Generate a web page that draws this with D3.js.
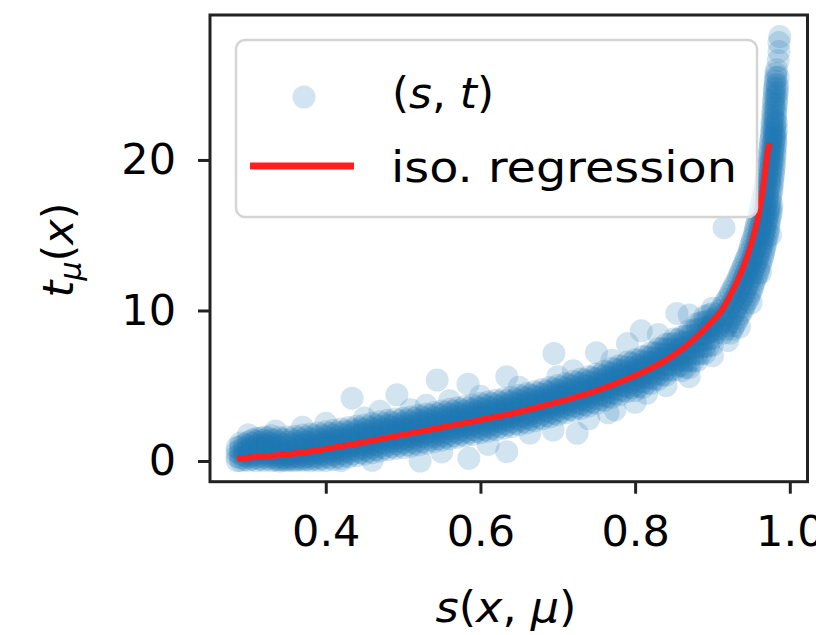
<!DOCTYPE html>
<html>
<head>
<meta charset="utf-8">
<script src="https://d3js.org/d3.v7.min.js"></script>
<style>
  body { margin: 0; background: #fff; }
  text { font-family: "DejaVu Sans", sans-serif; fill: #000; }
</style>
</head>
<body>
<div id="chart"></div>
<script>
// scatter band, read column by column: s value and the t values seen in that column
var bandS = [0.2854, 0.29, 0.30, 0.31, 0.32, 0.33, 0.34, 0.35, 0.36, 0.37, 0.38, 0.39, 0.40,
  0.41, 0.42, 0.43, 0.44, 0.45, 0.46, 0.47, 0.48, 0.49, 0.50, 0.51, 0.52, 0.53, 0.54, 0.55,
  0.56, 0.57, 0.58, 0.59, 0.60, 0.61, 0.62, 0.63, 0.64, 0.65, 0.66, 0.67, 0.68, 0.69, 0.70,
  0.71, 0.72, 0.73, 0.74, 0.75, 0.76, 0.77, 0.78, 0.79, 0.80, 0.81, 0.82, 0.83, 0.84, 0.85,
  0.86, 0.87, 0.88, 0.89, 0.90];
var bandT = [
  [0.03, 0.3, 0.6, 0.9],
  [0.02, 0.2, 0.45, 0.7, 0.97, 1.2],
  [0.03, 0.25, 0.5, 0.75, 1.02, 1.27],
  [0.01, 0.22, 0.48, 0.76, 1.06, 1.31, 1.5],
  [0.04, 0.26, 0.54, 0.82, 1.12, 1.38, 1.6],
  [0.02, 0.28, 0.56, 0.86, 1.16, 1.42, 1.68],
  [0.0, 0.1, 0.3, 0.56, 0.9, 1.23, 1.55],
  [0.03, 0.12, 0.32, 0.61, 0.95, 1.28, 1.6],
  [0.01, 0.15, 0.36, 0.66, 1.0, 1.33, 1.65],
  [0.05, 0.18, 0.42, 0.73, 1.07, 1.4, 1.72],
  [0.02, 0.2, 0.48, 0.8, 1.14, 1.47, 1.79],
  [0.04, 0.25, 0.55, 0.87, 1.21, 1.54, 1.86],
  [0.03, 0.31, 0.63, 0.95, 1.29, 1.62, 1.94],
  [0.09, 0.41, 0.73, 1.05, 1.39, 1.72, 2.04],
  [0.18, 0.5, 0.82, 1.14, 1.48, 1.81, 2.13],
  [0.27, 0.59, 0.91, 1.23, 1.57, 1.9, 2.22],
  [0.36, 0.68, 1.0, 1.32, 1.66, 1.99, 2.31],
  [0.45, 0.77, 1.09, 1.41, 1.75, 2.08, 2.4],
  [0.55, 0.87, 1.19, 1.51, 1.85, 2.18, 2.5],
  [0.65, 0.97, 1.29, 1.61, 1.95, 2.28, 2.6],
  [0.75, 1.07, 1.39, 1.71, 2.05, 2.38, 2.7],
  [0.84, 1.16, 1.48, 1.8, 2.14, 2.47, 2.79],
  [0.89, 1.21, 1.54, 1.86, 2.19, 2.52, 2.84],
  [0.98, 1.3, 1.63, 1.95, 2.28, 2.61, 2.93],
  [1.08, 1.4, 1.73, 2.05, 2.38, 2.71, 3.03],
  [1.18, 1.5, 1.83, 2.15, 2.48, 2.81, 3.13],
  [1.28, 1.6, 1.93, 2.25, 2.58, 2.91, 3.23],
  [1.38, 1.7, 2.03, 2.35, 2.68, 3.01, 3.33],
  [1.48, 1.8, 2.13, 2.45, 2.78, 3.11, 3.43],
  [1.57, 1.89, 2.22, 2.54, 2.87, 3.2, 3.52],
  [1.67, 1.99, 2.32, 2.64, 2.97, 3.3, 3.62],
  [1.77, 2.09, 2.42, 2.74, 3.07, 3.4, 3.72],
  [1.88, 2.2, 2.53, 2.85, 3.18, 3.51, 3.83],
  [1.98, 2.3, 2.63, 2.95, 3.28, 3.61, 3.93],
  [2.08, 2.4, 2.73, 3.05, 3.38, 3.71, 4.03],
  [2.18, 2.5, 2.83, 3.15, 3.48, 3.81, 4.13],
  [2.29, 2.61, 2.94, 3.26, 3.59, 3.92, 4.24],
  [2.41, 2.73, 3.06, 3.38, 3.71, 4.04, 4.36],
  [2.54, 2.86, 3.19, 3.51, 3.84, 4.17, 4.49],
  [2.67, 2.99, 3.32, 3.64, 3.97, 4.3, 4.62],
  [2.8, 3.12, 3.45, 3.77, 4.1, 4.43, 4.75],
  [2.93, 3.25, 3.58, 3.9, 4.23, 4.56, 4.88],
  [3.07, 3.39, 3.72, 4.04, 4.37, 4.7, 5.02],
  [3.2, 3.52, 3.85, 4.17, 4.5, 4.83, 5.15],
  [3.35, 3.67, 4.0, 4.32, 4.65, 4.98, 5.3],
  [3.5, 3.82, 4.15, 4.47, 4.8, 5.13, 5.45],
  [3.65, 3.97, 4.3, 4.62, 4.95, 5.28, 5.6],
  [3.83, 4.15, 4.48, 4.8, 5.13, 5.46, 5.78],
  [4.02, 4.34, 4.67, 4.99, 5.32, 5.65, 5.97],
  [4.22, 4.54, 4.87, 5.19, 5.52, 5.85, 6.17],
  [4.4, 4.72, 5.05, 5.37, 5.7, 6.03, 6.35],
  [4.62, 4.94, 5.27, 5.59, 5.92, 6.25, 6.57],
  [4.68, 5.03, 5.38, 5.73, 6.08, 6.43, 6.73],
  [4.9, 5.25, 5.6, 5.95, 6.3, 6.65, 6.95],
  [5.15, 5.5, 5.85, 6.2, 6.55, 6.9, 7.2],
  [5.42, 5.77, 6.12, 6.47, 6.82, 7.17, 7.47],
  [5.7, 6.05, 6.4, 6.75, 7.1, 7.45, 7.75],
  [6.05, 6.4, 6.75, 7.1, 7.45, 7.8, 8.1],
  [6.0, 6.35, 6.75, 7.1, 7.5, 7.9, 8.25],
  [6.2, 6.65, 7.1, 7.5, 7.9, 8.3, 8.65],
  [6.66, 7.11, 7.56, 7.96, 8.36, 8.76, 9.11],
  [7.15, 7.6, 8.05, 8.45, 8.85, 9.25, 9.6],
  [7.7, 8.15, 8.6, 9.0, 9.4, 9.8, 10.15]
];

// second pass over the band, columns in between the ones above
var bandS2 = [0.295, 0.305, 0.315, 0.325, 0.335, 0.345, 0.355, 0.365, 0.375, 0.385, 0.395,
  0.405, 0.415, 0.425, 0.435, 0.445, 0.455, 0.465, 0.475, 0.485, 0.495, 0.505, 0.515, 0.525,
  0.535, 0.545, 0.555, 0.565, 0.575, 0.585, 0.595, 0.605, 0.615, 0.625, 0.635, 0.645, 0.655,
  0.665, 0.675, 0.685, 0.695, 0.705, 0.715, 0.725, 0.735, 0.745, 0.755, 0.765, 0.775, 0.785,
  0.795, 0.805, 0.815, 0.825, 0.835, 0.845, 0.855, 0.865, 0.875, 0.885, 0.895];
var bandT2 = [
  [0.1, 0.35, 0.6, 0.85, 1.1],
  [0.12, 0.36, 0.62, 0.9, 1.18, 1.4],
  [0.12, 0.38, 0.66, 0.95, 1.24, 1.5],
  [0.14, 0.4, 0.7, 0.99, 1.28, 1.55],
  [0.08, 0.2, 0.43, 0.72, 1.06, 1.4],
  [0.06, 0.2, 0.45, 0.76, 1.1, 1.43],
  [0.08, 0.24, 0.5, 0.8, 1.13, 1.46],
  [0.1, 0.28, 0.55, 0.86, 1.19, 1.52],
  [0.1, 0.3, 0.62, 0.94, 1.27, 1.6],
  [0.12, 0.36, 0.68, 1.0, 1.34, 1.67],
  [0.15, 0.45, 0.77, 1.09, 1.42, 1.75],
  [0.2, 0.52, 0.84, 1.17, 1.5, 1.82],
  [0.29, 0.61, 0.93, 1.26, 1.59, 1.91],
  [0.38, 0.7, 1.02, 1.35, 1.68, 2.0],
  [0.47, 0.79, 1.11, 1.44, 1.77, 2.09],
  [0.56, 0.88, 1.2, 1.53, 1.86, 2.18],
  [0.66, 0.98, 1.3, 1.63, 1.96, 2.28],
  [0.76, 1.08, 1.4, 1.73, 2.06, 2.38],
  [0.86, 1.18, 1.5, 1.83, 2.16, 2.48],
  [0.96, 1.28, 1.6, 1.93, 2.26, 2.58],
  [1.05, 1.37, 1.69, 2.02, 2.35, 2.67],
  [1.09, 1.42, 1.74, 2.07, 2.4, 2.72],
  [1.19, 1.52, 1.84, 2.17, 2.5, 2.82],
  [1.29, 1.62, 1.94, 2.27, 2.6, 2.92],
  [1.39, 1.72, 2.04, 2.37, 2.7, 3.02],
  [1.49, 1.82, 2.14, 2.47, 2.8, 3.12],
  [1.59, 1.92, 2.24, 2.57, 2.9, 3.22],
  [1.68, 2.01, 2.33, 2.66, 2.99, 3.31],
  [1.78, 2.11, 2.43, 2.76, 3.09, 3.41],
  [1.88, 2.21, 2.53, 2.86, 3.19, 3.51],
  [1.98, 2.31, 2.63, 2.96, 3.29, 3.61],
  [2.09, 2.42, 2.74, 3.07, 3.4, 3.72],
  [2.19, 2.52, 2.84, 3.17, 3.5, 3.82],
  [2.29, 2.62, 2.94, 3.27, 3.6, 3.92],
  [2.39, 2.72, 3.04, 3.37, 3.7, 4.02],
  [2.51, 2.84, 3.16, 3.49, 3.82, 4.14],
  [2.63, 2.96, 3.28, 3.61, 3.94, 4.26],
  [2.76, 3.09, 3.41, 3.74, 4.07, 4.39],
  [2.89, 3.22, 3.54, 3.87, 4.2, 4.52],
  [3.02, 3.35, 3.67, 4.0, 4.33, 4.65],
  [3.16, 3.49, 3.81, 4.14, 4.47, 4.79],
  [3.29, 3.62, 3.94, 4.27, 4.6, 4.92],
  [3.43, 3.76, 4.08, 4.41, 4.74, 5.06],
  [3.58, 3.91, 4.23, 4.56, 4.89, 5.21],
  [3.73, 4.06, 4.38, 4.71, 5.04, 5.36],
  [3.9, 4.23, 4.55, 4.88, 5.21, 5.53],
  [4.08, 4.41, 4.73, 5.06, 5.39, 5.71],
  [4.28, 4.61, 4.93, 5.26, 5.59, 5.91],
  [4.47, 4.8, 5.12, 5.45, 5.78, 6.1],
  [4.67, 5.0, 5.32, 5.65, 5.98, 6.3],
  [4.88, 5.21, 5.53, 5.86, 6.19, 6.51],
  [4.96, 5.31, 5.66, 6.01, 6.36, 6.69],
  [5.19, 5.54, 5.89, 6.24, 6.59, 6.92],
  [5.45, 5.8, 6.15, 6.5, 6.85, 7.18],
  [5.73, 6.08, 6.43, 6.78, 7.13, 7.46],
  [6.04, 6.39, 6.74, 7.09, 7.44, 7.77],
  [6.3, 6.65, 7.0, 7.35, 7.7, 8.05],
  [6.22, 6.67, 7.1, 7.5, 7.9, 8.28],
  [6.65, 7.1, 7.53, 7.93, 8.33, 8.71],
  [7.12, 7.57, 8.0, 8.4, 8.8, 9.18],
  [7.64, 8.09, 8.52, 8.92, 9.32, 9.7]
];

// steep part, read row by row: t value and the s values seen in that row
var rowT = [8.5, 9.0, 9.5, 10.0, 10.5, 11.0, 11.5, 12.0, 12.5, 13.0, 13.5, 14.0, 14.5, 15.0,
  15.5, 16.0, 16.5, 17.0, 17.5, 18.0, 18.5, 19.0, 19.5, 20.0, 20.5, 21.0, 21.5, 22.0, 22.5,
  23.0, 23.5, 24.0, 24.5, 25.0, 25.5, 26.0, 26.6, 27.2, 27.8, 28.2];
var rowS = [
  [0.894, 0.904, 0.914, 0.923],
  [0.899, 0.909, 0.919, 0.928],
  [0.904, 0.914, 0.924, 0.933],
  [0.91, 0.92, 0.93, 0.939],
  [0.916, 0.926, 0.935, 0.943],
  [0.922, 0.931, 0.94, 0.948],
  [0.927, 0.936, 0.944, 0.952],
  [0.932, 0.94, 0.948, 0.955],
  [0.936, 0.944, 0.952, 0.959],
  [0.94, 0.948, 0.955, 0.962],
  [0.944, 0.952, 0.959, 0.965],
  [0.948, 0.955, 0.962, 0.967],
  [0.951, 0.958, 0.964, 0.969],
  [0.954, 0.96, 0.966, 0.971],
  [0.956, 0.962, 0.968, 0.973],
  [0.959, 0.965, 0.97, 0.974],
  [0.961, 0.967, 0.972, 0.976],
  [0.963, 0.969, 0.974, 0.977],
  [0.965, 0.971, 0.975],
  [0.967, 0.972, 0.977],
  [0.969, 0.974, 0.978],
  [0.97, 0.975, 0.979],
  [0.971, 0.976, 0.98],
  [0.973, 0.977, 0.98],
  [0.974, 0.978, 0.981],
  [0.975, 0.979, 0.982],
  [0.976, 0.98, 0.982],
  [0.977, 0.98, 0.983],
  [0.977, 0.981, 0.983],
  [0.978, 0.982],
  [0.979, 0.982],
  [0.979, 0.983],
  [0.98, 0.984],
  [0.981, 0.984],
  [0.982, 0.985],
  [0.983],
  [0.985],
  [0.986],
  [0.986],
  [0.987]
];

// second pass over the steep part, rows in between the ones above
var rowT2 = [8.75, 9.25, 9.75, 10.25, 10.75, 11.25, 11.75, 12.25, 12.75, 13.25, 13.75, 14.25,
  14.75, 15.25, 15.75, 16.25, 16.75, 17.25, 17.75, 18.25, 18.75, 19.25, 19.75, 20.25, 20.75,
  21.25, 21.75, 22.25, 22.75, 23.25, 23.75, 24.25, 24.75, 25.25, 25.75];
var rowS2 = [
  [0.897, 0.907, 0.917, 0.926],
  [0.902, 0.912, 0.922, 0.931],
  [0.907, 0.917, 0.927, 0.936],
  [0.913, 0.923, 0.932, 0.941],
  [0.919, 0.928, 0.937, 0.946],
  [0.924, 0.933, 0.942, 0.95],
  [0.929, 0.938, 0.946, 0.953],
  [0.934, 0.942, 0.95, 0.957],
  [0.938, 0.946, 0.953, 0.96],
  [0.942, 0.95, 0.957, 0.963],
  [0.946, 0.953, 0.96, 0.966],
  [0.949, 0.956, 0.963, 0.968],
  [0.952, 0.959, 0.965, 0.97],
  [0.955, 0.961, 0.967, 0.972],
  [0.957, 0.963, 0.969, 0.973],
  [0.96, 0.966, 0.971, 0.975],
  [0.962, 0.968, 0.973, 0.976],
  [0.964, 0.97, 0.975],
  [0.966, 0.971, 0.976],
  [0.968, 0.973, 0.977],
  [0.969, 0.974, 0.978],
  [0.971, 0.975, 0.979],
  [0.972, 0.976, 0.98],
  [0.973, 0.977, 0.981],
  [0.974, 0.978, 0.981],
  [0.975, 0.979, 0.982],
  [0.976, 0.98, 0.982],
  [0.977, 0.981],
  [0.978, 0.981],
  [0.978, 0.982],
  [0.979, 0.983],
  [0.98, 0.983],
  [0.98, 0.984],
  [0.981],
  [0.982]
];

// loose points around the band
var outS = [0.30, 0.335, 0.37, 0.40, 0.434, 0.45, 0.47, 0.492, 0.51, 0.53, 0.544, 0.56, 0.584,
  0.60, 0.634, 0.65, 0.695, 0.70, 0.72, 0.75, 0.77, 0.79, 0.808, 0.83, 0.854, 0.87, 0.915,
  0.42, 0.46, 0.522, 0.55, 0.585, 0.61, 0.634, 0.664, 0.694, 0.725, 0.74, 0.765, 0.774, 0.80,
  0.815, 0.84, 0.87, 0.90, 0.92, 0.935, 0.95, 0.962, 0.975];
var outT = [1.75, 2.0, 2.25, 2.5, 4.17, 2.85, 3.3, 4.4, 3.4, 3.7, 5.38, 4.0, 5.1,
  4.3, 5.6, 4.9, 7.15, 5.6, 6.0, 7.2, 6.7, 7.8, 8.65, 8.4, 9.8, 9.7, 15.5,
  0.02, 0.05, 0.0, 0.6, 0.18, 1.1, 0.62, 1.86, 2.06, 1.84, 2.8, 3.2, 3.4, 3.9,
  4.5, 5.0, 5.6, 7.0, 8.0, 8.9, 10.5, 12.5, 15.0];

// isotonic regression curve
var isoS = [0.2854, 0.30, 0.33, 0.36, 0.393, 0.42, 0.45, 0.48, 0.522, 0.55, 0.58, 0.60, 0.63,
  0.651, 0.68, 0.71, 0.74, 0.781, 0.81, 0.84, 0.86, 0.88, 0.90, 0.912, 0.925, 0.94, 0.95,
  0.959, 0.966, 0.972, 0.974];
var isoT = [0.15, 0.22, 0.35, 0.5, 0.73, 0.98, 1.25, 1.55, 1.95, 2.23, 2.52, 2.73, 3.03,
  3.27, 3.65, 4.05, 4.5, 5.27, 5.9, 6.7, 7.4, 8.26, 9.3, 10.0, 11.2, 12.9, 14.4,
  16.2, 18.3, 20.7, 21.1];

var xTicks = [0.4, 0.6, 0.8, 1.0];
var yTicks = [0, 10, 20];
var xLimits = [0.2503, 1.0229];
var yLimits = [-1.375, 29.63];

var width = 816, height = 635;
var plotLeft = 210, plotRight = 807.5, plotTop = 15, plotBottom = 481.7;
var blue = "#1f77b4";

var svg = d3.select("#chart").append("svg")
    .attr("width", width)
    .attr("height", height);

var x = d3.scaleLinear().domain(xLimits).range([plotLeft, plotRight]);
var y = d3.scaleLinear().domain(yLimits).range([plotBottom, plotTop]);

// collect all scatter points
var points = [];
function addColumns(sList, tLists) {
    sList.forEach(function (s, i) {
        tLists[i].forEach(function (t) { points.push([s, t]); });
    });
}
function addRows(tList, sLists) {
    tList.forEach(function (t, i) {
        sLists[i].forEach(function (s) { points.push([s, t]); });
    });
}
addColumns(bandS, bandT);
addColumns(bandS2, bandT2);
addRows(rowT, rowS);
addRows(rowT2, rowS2);
outS.forEach(function (s, i) { points.push([s, outT[i]]); });

svg.append("clipPath").attr("id", "plotArea")
  .append("rect")
    .attr("x", plotLeft).attr("y", plotTop)
    .attr("width", plotRight - plotLeft).attr("height", plotBottom - plotTop);

var plot = svg.append("g").attr("clip-path", "url(#plotArea)");

plot.selectAll("circle")
    .data(points)
    .enter()
    .append("circle")
    .attr("cx", function (d) { return x(d[0]); })
    .attr("cy", function (d) { return y(d[1]); })
    .attr("r", 11.5)
    .style("fill", blue)
    .style("fill-opacity", 0.2);

var line = d3.line()
    .curve(d3.curveMonotoneX)
    .x(function (d) { return x(d[0]); })
    .y(function (d) { return y(d[1]); });

plot.append("path")
    .datum(isoS.map(function (s, i) { return [s, isoT[i]]; }))
    .attr("d", line)
    .attr("fill", "none")
    .attr("stroke", "#ff1f1f")
    .attr("stroke-width", 6);

// axes
var xAxis = d3.axisBottom(x)
    .tickValues(xTicks)
    .tickFormat(d3.format(".1f"))
    .tickSize(12)
    .tickSizeOuter(0)
    .tickPadding(22);

var yAxis = d3.axisLeft(y)
    .tickValues(yTicks)
    .tickFormat(d3.format("d"))
    .tickSize(12)
    .tickSizeOuter(0)
    .tickPadding(22);

var gx = svg.append("g").attr("transform", "translate(0," + plotBottom + ")").call(xAxis);
var gy = svg.append("g").attr("transform", "translate(" + plotLeft + ",0)").call(yAxis);

[gx, gy].forEach(function (g) {
    g.select(".domain").remove();
    g.selectAll(".tick line").attr("stroke", "#222").attr("stroke-width", 3);
    g.selectAll(".tick text")
        .attr("fill", "#111")
        .style("font-family", "'DejaVu Sans', sans-serif")
        .style("font-size", "43px");
});

// frame
svg.append("rect")
    .attr("x", plotLeft).attr("y", plotTop)
    .attr("width", plotRight - plotLeft).attr("height", plotBottom - plotTop)
    .attr("fill", "none")
    .attr("stroke", "#222")
    .attr("stroke-width", 3);

// axis labels
var xl = svg.append("text")
    .attr("x", 506).attr("y", 622)
    .attr("text-anchor", "middle")
    .style("font-size", "43px")
    .attr("textLength", 141)
    .attr("lengthAdjust", "spacingAndGlyphs");
xl.append("tspan").style("font-style", "italic").text("s");
xl.append("tspan").text("(");
xl.append("tspan").style("font-style", "italic").text("x");
xl.append("tspan").text(", ");
xl.append("tspan").style("font-style", "italic").text("μ");
xl.append("tspan").text(")");

var yl = svg.append("text")
    .attr("transform", "translate(73,250) rotate(-90)")
    .attr("text-anchor", "middle")
    .style("font-size", "43px");
yl.append("tspan").style("font-style", "italic").text("t");
yl.append("tspan").style("font-style", "italic").style("font-size", "30px").attr("dy", 8).text("μ");
yl.append("tspan").attr("dy", -8).text("(");
yl.append("tspan").style("font-style", "italic").text("x");
yl.append("tspan").text(")");

// legend
var legend = svg.append("g");
legend.append("rect")
    .attr("x", 236).attr("y", 40)
    .attr("width", 521).attr("height", 177)
    .attr("rx", 9)
    .attr("fill", "#fff")
    .attr("fill-opacity", 0.8)
    .attr("stroke", "#d4d4d4")
    .attr("stroke-width", 2.5);

legend.append("circle")
    .attr("cx", 304).attr("cy", 97).attr("r", 11.5)
    .style("fill", blue).style("fill-opacity", 0.2);

legend.append("line")
    .attr("x1", 250).attr("x2", 354)
    .attr("y1", 166).attr("y2", 166)
    .attr("stroke", "#ff1f1f")
    .attr("stroke-width", 7);

var l1 = legend.append("text")
    .attr("x", 392).attr("y", 108)
    .style("font-size", "43px")
    .attr("textLength", 102)
    .attr("lengthAdjust", "spacingAndGlyphs");
l1.append("tspan").text("(");
l1.append("tspan").style("font-style", "italic").text("s");
l1.append("tspan").text(", ");
l1.append("tspan").style("font-style", "italic").text("t");
l1.append("tspan").text(")");

legend.append("text")
    .attr("x", 391).attr("y", 182)
    .style("font-size", "43px")
    .attr("textLength", 346)
    .attr("lengthAdjust", "spacingAndGlyphs")
    .text("iso. regression");
</script>
</body>
</html>
